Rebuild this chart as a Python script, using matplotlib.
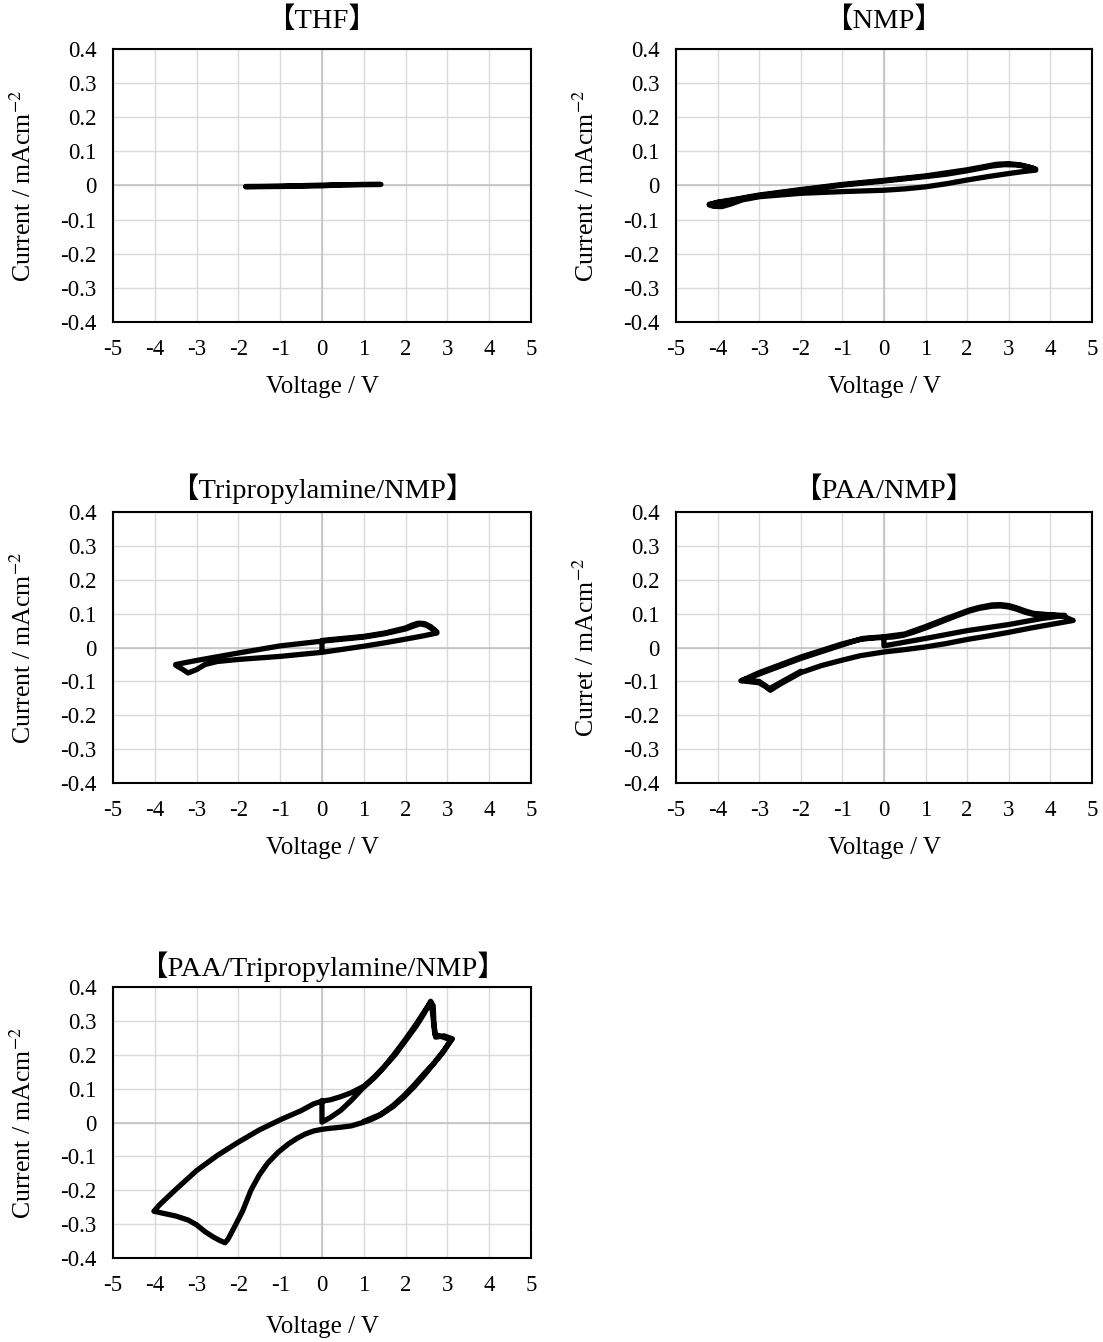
import matplotlib
matplotlib.use("Agg")
import matplotlib.pyplot as plt

plt.rcParams['font.family'] = ['Liberation Serif', 'Noto Sans CJK JP', 'DejaVu Sans']
plt.rcParams['mathtext.fontset'] = 'stix'
plt.rcParams['axes.unicode_minus'] = False

X_TICKS = [-5, -4, -3, -2, -1, 0, 1, 2, 3, 4, 5]
Y_TICKS = [-0.4, -0.3, -0.2, -0.1, 0, 0.1, 0.2, 0.3, 0.4]
Y_TICK_LABELS = ['-0.4', '-0.3', '-0.2', '-0.1', '0', '0.1', '0.2', '0.3', '0.4']

TITLES = ['【THF】', '【NMP】', '【Tripropylamine/NMP】', '【PAA/NMP】',
          '【PAA/Tripropylamine/NMP】']
Y_LABELS = ['Current / mAcm$^{-2}$', 'Current / mAcm$^{-2}$', 'Current / mAcm$^{-2}$',
            'Curret / mAcm$^{-2}$', 'Current / mAcm$^{-2}$']

# THF
thf_v = [-1.82, -1.0, 0.0, 0.5, 1.41, 1.0, 0.0, -1.0, -1.82]
thf_i = [-0.004, -0.003, -0.001, 0.002, 0.003, 0.003, 0.001, -0.002, -0.003]

# NMP
nmp_v = [-4.2, -4.0, -3.6, -3.3, -3.0, -2.0, -1.0, 0.0, 1.0, 1.5, 2.0, 2.3, 2.6, 2.9, 3.2, 3.45, 3.65,
         3.65, 3.3, 3.0, 2.5, 2.0, 1.5, 1.0, 0.5, 0.0, -1.0, -2.0, -3.0, -3.4, -3.7, -3.9, -4.1, -4.2,
         -4.0, -3.6, -3.0, -2.0, -1.0, 0.0, 1.0, 2.0, 2.4, 2.7, 3.0, 3.3, 3.6]
nmp_i = [-0.055, -0.05, -0.043, -0.036, -0.03, -0.014, 0.001, 0.013, 0.026, 0.033, 0.043, 0.05, 0.057, 0.061, 0.06, 0.055, 0.048,
         0.045, 0.04, 0.035, 0.026, 0.016, 0.005, -0.004, -0.01, -0.014, -0.018, -0.023, -0.033, -0.042, -0.055, -0.062, -0.061, -0.057,
         -0.049, -0.041, -0.028, -0.012, 0.003, 0.015, 0.028, 0.046, 0.055, 0.062, 0.064, 0.06, 0.05]

# Tripropylamine/NMP
tpa_v = [0.0, 0.0, 0.5, 1.0, 1.5, 2.0, 2.15, 2.3, 2.45, 2.6, 2.75,
         2.75, 2.4, 2.0, 1.5, 1.0, 0.5, 0.0, -1.0, -2.0, -2.5, -2.8, -3.0, -3.2, -3.35, -3.5,
         -3.5, -3.0, -2.0, -1.0, 0.0, 1.0, 1.5, 2.0, 2.2, 2.35, 2.5, 2.7]
tpa_i = [-0.006, 0.021, 0.027, 0.033, 0.043, 0.058, 0.066, 0.072, 0.071, 0.062, 0.046,
         0.043, 0.034, 0.025, 0.014, 0.004, -0.005, -0.014, -0.026, -0.035, -0.041, -0.05, -0.065, -0.075, -0.063, -0.052,
         -0.05, -0.038, -0.016, 0.005, 0.019, 0.031, 0.041, 0.055, 0.064, 0.07, 0.066, 0.05]

# PAA/NMP
paa_v = [0.0, 0.0, 1.0, 2.0, 3.0, 3.8, 4.35,
         3.8, 3.6, 3.4, 3.2, 3.0, 2.8, 2.6, 2.3, 2.06, 1.75, 1.5, 1.25, 1.0, 0.7, 0.46, 0.2, 0.0,
         -0.3, -0.57, -0.8, -1.0, -1.5, -2.0, -2.5, -3.0, -3.25, -3.44,
         -3.2, -3.0, -2.85, -2.73, -2.5, -2.0, -1.5, -1.0, -0.57, 0.0, 0.5, 1.0, 1.5, 2.0, 2.5, 3.0, 3.5,
         4.0, 4.55,
         4.3, 3.8, 3.6, 3.4, 3.2, 3.0, 2.8, 2.6, 2.3, 2.06, 1.75, 1.5, 1.0, 0.5, 0.0, -0.5, -1.0, -2.0,
         -3.0, -3.4, -3.0, -2.75, -2.5, -2.0]
paa_i = [0.028, 0.005, 0.027, 0.05, 0.068, 0.086, 0.095,
         0.097, 0.098, 0.104, 0.113, 0.12, 0.123, 0.122, 0.116, 0.108, 0.094, 0.082, 0.07, 0.058, 0.045, 0.036, 0.031, 0.03,
         0.028, 0.024, 0.016, 0.008, -0.012, -0.032, -0.055, -0.078, -0.09, -0.098,
         -0.101, -0.104, -0.115, -0.126, -0.108, -0.074, -0.053, -0.037, -0.024, -0.013, -0.006, 0.002, 0.012, 0.024, 0.034, 0.045, 0.057,
         0.068, 0.08,
         0.093, 0.099, 0.101, 0.108, 0.117, 0.124, 0.127, 0.126, 0.119, 0.111, 0.097, 0.086, 0.062, 0.04, 0.032, 0.027, 0.011, -0.028,
         -0.074, -0.096, -0.1, -0.121, -0.104, -0.07]

# PAA/Tripropylamine/NMP
mix_v = [0.0, 0.0, 0.2, 0.44, 0.7, 0.92,
         1.0, 1.25, 1.48, 1.75, 2.0, 2.25, 2.44, 2.6, 2.66, 2.68, 2.72, 2.92, 3.12,
         2.9, 2.68, 2.45, 2.2, 1.95, 1.7, 1.4, 1.2, 1.0, 0.7, 0.44, 0.2, 0.0, -0.2, -0.4, -0.6,
         -0.8, -1.05, -1.3, -1.5, -1.7, -1.9, -2.1, -2.25, -2.32,
         -2.45, -2.6, -2.8, -3.0, -3.2, -3.5, -3.8, -4.02,
         -3.9, -3.8, -3.5, -3.0, -2.5, -2.0, -1.5, -1.0, -0.5, -0.2, 0.0,
         0.2, 0.44, 0.7, 1.0, 1.25, 1.5, 1.75, 2.0, 2.25, 2.44, 2.58, 2.64, 2.7, 2.95, 3.08,
         2.9, 2.7, 2.45, 2.2, 1.95, 1.7, 1.4, 1.0]
mix_i = [0.065, 0.001, 0.015, 0.035, 0.065, 0.094,
         0.104, 0.132, 0.163, 0.2, 0.242, 0.284, 0.321, 0.358, 0.345, 0.29, 0.252, 0.256, 0.247,
         0.21, 0.175, 0.14, 0.105, 0.074, 0.047, 0.022, 0.01, 0.001, -0.01, -0.014, -0.017, -0.02, -0.025, -0.034, -0.047,
         -0.063, -0.088, -0.12, -0.155, -0.2, -0.262, -0.31, -0.345, -0.355,
         -0.348, -0.338, -0.322, -0.302, -0.288, -0.276, -0.268, -0.262,
         -0.245, -0.233, -0.198, -0.142, -0.097, -0.058, -0.022, 0.008, 0.035, 0.055, 0.063,
         0.067, 0.076, 0.088, 0.107, 0.134, 0.166, 0.205, 0.246, 0.29, 0.326, 0.352, 0.33, 0.26, 0.25, 0.243,
         0.208, 0.178, 0.145, 0.11, 0.078, 0.05, 0.024, 0.003]

DATA = [(thf_v, thf_i), (nmp_v, nmp_i), (tpa_v, tpa_i), (paa_v, paa_i), (mix_v, mix_i)]

# axes rectangles in figure fractions (left, bottom, width, height)
POSITIONS = [
    [0.1024, 0.7601, 0.379, 0.2034],
    [0.6129, 0.7601, 0.377, 0.2034],
    [0.1024, 0.4165, 0.379, 0.2019],
    [0.6129, 0.4165, 0.377, 0.2019],
    [0.1024, 0.0626, 0.379, 0.2019],
]
XLABEL_PADS = [12, 12, 12, 12, 15]
TITLE_PADS = [15, 15, 10, 10, 8]


def draw_panel(ax, v, i, title, ylabel, xpad, tpad):
    ax.set_xlim(-5, 5)
    ax.set_ylim(-0.4, 0.4)
    ax.set_xticks(X_TICKS)
    ax.set_yticks(Y_TICKS)
    ax.set_yticklabels(Y_TICK_LABELS)
    ax.grid(True, color='#d9d9d9', linewidth=1.0, zorder=0)
    ax.axhline(0, color='#bfbfbf', linewidth=1.1, zorder=1)
    ax.axvline(0, color='#bfbfbf', linewidth=1.1, zorder=1)
    ax.plot(v, i, color='black', linewidth=3.8, solid_joinstyle='round',
            solid_capstyle='round', zorder=3)
    ax.tick_params(length=0, labelsize=16.5)
    ax.tick_params(axis='x', pad=12)
    ax.tick_params(axis='y', pad=12)
    for sp in ax.spines.values():
        sp.set_linewidth(1.5)
        sp.set_color('black')
        sp.set_zorder(4)
    ax.set_axisbelow(True)
    ax.set_title(title, fontsize=20.5, pad=tpad)
    ax.set_xlabel('Voltage / V', fontsize=18, labelpad=xpad)
    ax.set_ylabel(ylabel, fontsize=18.5)
    ax.yaxis.set_label_coords(-0.185, 0.5)


fig = plt.figure(figsize=(11.03, 13.42), dpi=100)
for k in range(len(DATA)):
    ax = fig.add_axes(POSITIONS[k])
    draw_panel(ax, DATA[k][0], DATA[k][1], TITLES[k], Y_LABELS[k],
               XLABEL_PADS[k], TITLE_PADS[k])

fig.savefig('out.png', dpi=100)
